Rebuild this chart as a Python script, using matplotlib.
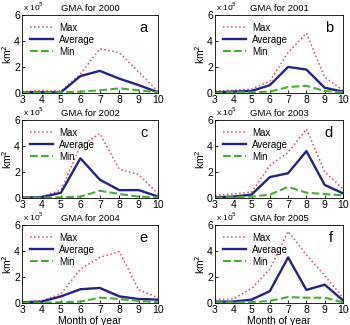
import numpy as np
import matplotlib
matplotlib.use('Agg')
import matplotlib.pyplot as plt

months = [3, 4, 5, 6, 7, 8, 9, 10]
years = ['2000', '2001', '2002', '2003', '2004', '2005']
letters = ['a', 'b', 'c', 'd', 'e', 'f']

# values in units of 1e5 km^2
max_vals = [
    [0.1, 0.2, 0.15, 1.45, 3.4, 3.1, 1.6, 0.1],
    [0.15, 0.2, 0.3, 0.9, 3.1, 4.6, 1.2, 0.2],
    [0.05, 0.1, 0.6, 4.0, 4.95, 2.2, 1.8, 0.3],
    [0.2, 0.3, 0.45, 2.5, 3.5, 5.3, 2.0, 0.7],
    [0.05, 0.15, 0.7, 2.6, 3.5, 3.95, 1.0, 0.4],
    [0.3, 0.3, 1.1, 2.6, 5.5, 3.7, 2.1, 0.4],
]
avg_vals = [
    [0.05, 0.05, 0.05, 1.3, 1.7, 1.1, 0.6, 0.05],
    [0.05, 0.1, 0.15, 0.6, 2.0, 1.8, 0.4, 0.1],
    [0.02, 0.05, 0.4, 3.05, 1.4, 0.6, 0.6, 0.1],
    [0.05, 0.1, 0.25, 1.6, 1.9, 3.6, 1.0, 0.35],
    [0.05, 0.1, 0.5, 1.05, 1.15, 0.5, 0.3, 0.25],
    [0.1, 0.1, 0.25, 0.9, 3.5, 1.0, 1.4, 0.2],
]
min_vals = [
    [0.05, 0.05, 0.05, 0.1, 0.2, 0.35, 0.2, 0.05],
    [0.02, 0.05, 0.05, 0.1, 0.45, 0.55, 0.15, 0.05],
    [0.02, 0.02, 0.05, 0.1, 0.55, 0.3, 0.1, 0.05],
    [0.02, 0.05, 0.1, 0.25, 0.85, 0.4, 0.3, 0.2],
    [0.02, 0.02, 0.05, 0.1, 0.4, 0.3, 0.15, 0.05],
    [0.05, 0.05, 0.05, 0.15, 0.45, 0.4, 0.4, 0.05],
]

plt.rcParams['font.family'] = 'Liberation Sans'
fig = plt.figure(figsize=(3.5, 3.25), dpi=100)

lefts = [0.063, 0.614]
widths = [0.389, 0.366]
bottoms = [0.714, 0.391, 0.068]
h = 0.24

for i in range(6):
    r, c = i // 2, i % 2
    ax = fig.add_axes([lefts[c], bottoms[r], widths[c], h])
    ax.plot(months, max_vals[i], color='#d0505a', ls=':', lw=1.1, label='Max')
    ax.plot(months, avg_vals[i], color='#22228a', ls='-', lw=1.7, label='Average')
    ax.plot(months, min_vals[i], color='#44b030', ls='--', lw=1.5, label='Min')
    ax.set_xlim(3, 10)
    ax.set_ylim(0, 6)
    ax.set_xticks(months)
    ax.set_yticks([0, 2, 4, 6])
    ax.tick_params(labelsize=7.5, length=2, direction='in', pad=1.5, width=0.6)
    for s in ax.spines.values():
        s.set_linewidth(0.6)
    ax.set_title('GMA for ' + years[i], fontsize=6.8, pad=3)
    ax.text(0.01, 1.02, r'x 10$^5$', transform=ax.transAxes, fontsize=6, va='bottom')
    ax.set_ylabel('km$^2$', fontsize=7.5, labelpad=0)
    ax.text(0.92, 0.83, letters[i], transform=ax.transAxes, fontsize=10.5, ha='right', va='center')
    ax.legend(loc='upper left', fontsize=7, frameon=False, handlelength=2.4,
              borderpad=0.3, labelspacing=0.2, handletextpad=0.6, borderaxespad=0.5)
    if r == 2:
        ax.set_xlabel('Month of year', fontsize=7.5, labelpad=1)

fig.savefig('out.png', dpi=100)
